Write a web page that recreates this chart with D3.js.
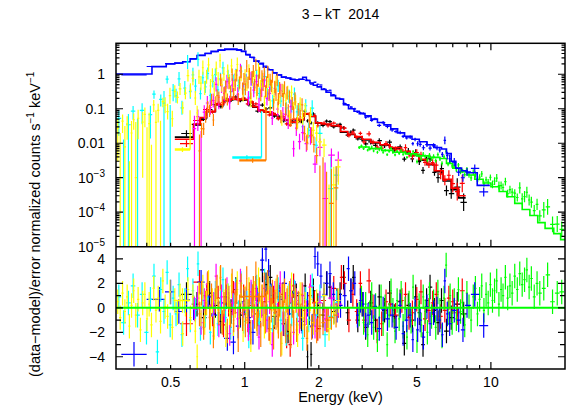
<!DOCTYPE html>
<html><head><meta charset="utf-8">
<script src="https://cdn.jsdelivr.net/npm/d3@7"></script>
<style>
body{margin:0;background:#fff}
text{font-family:"Liberation Sans",Arial,Helvetica,sans-serif;fill:#000}
</style>
</head><body>
<svg id="c" width="568" height="408"></svg>
<script>
// ---------------- DATA ----------------
const titleText = "3 \u2013 kT  2014";
const xLabelText = "Energy (keV)";
const xTickLabels = [0.5, 1, 2, 5, 10];
const yTopTickLabels = [1, 0.1, 0.01, 1e-3, 1e-4, 1e-5];
const yBotTickLabels = [-4, -2, 0, 2, 4];

// blue: model steps (edges / values), relative sigma, points [E, residual]
const blueME = [0.30,0.42,0.48,0.52,0.56,0.60,0.64,0.69,0.73,0.78,0.83,0.88,0.93,0.97,1.01,1.05,1.09,1.14,1.19,1.24,1.30,1.35,1.41,1.47,1.53,1.60,1.66,1.72,1.78,1.84,1.90,1.97,2.05,2.14,2.24,2.34,2.43,2.52,2.64,2.78,2.92,3.08,3.26,3.46,3.68,3.92,4.18,4.46,4.78,5.12,5.50,5.92,6.30,6.60,6.90,7.20,7.60,8.00,8.80,9.90];
const blueMV = [1.02,1.66,2.0,2.1,2.3,2.8,3.5,4.0,4.6,5.0,5.4,5.4,5.1,4.6,3.7,3.1,2.4,2.0,1.6,1.35,1.1,0.95,0.82,0.78,0.72,0.68,0.72,0.82,0.66,0.56,0.48,0.43,0.36,0.30,0.24,0.20,0.19,0.13,0.10,0.085,0.072,0.062,0.05,0.04,0.034,0.026,0.02,0.016,0.013,0.011,0.009,0.0075,0.0068,0.005,0.003,0.0019,0.0016,0.0014,0.0006];
const blueSE = [0.3,1.8,2.5,3.5,5.0,6.5,8.8,10];
const blueSV = [0.015,0.05,0.08,0.12,0.18,0.3,0.35];
const bluePts = [[0.355,-3.8],[0.45,0.7],[0.50,1.3],[0.54,-0.3],[0.58,0.65],[0.62,0.0],[0.665,2.1],[0.71,0.9],[0.75,-0.6],[0.80,0.4],[0.85,-2.5],[0.90,-2.8],[0.94,-1.5],[0.99,0.5],[1.04,-0.8],[1.08,-2.0],[1.13,0.6],[1.18,3.9],[1.22,4.8],[1.25,3.0],[1.28,1.0],[1.33,-0.4],[1.39,0.7],[1.45,2.0],[1.52,-0.5],[1.60,1.2],[1.71,-1.1],[1.80,0.3],[1.88,-1.5],[1.93,4.2],[1.98,3.6],[2.04,2.6],[2.10,1.1],[2.16,2.0],[2.22,2.8],[2.29,1.1],[2.37,-0.2],[2.45,0.2],[2.55,1.0],[2.64,3.2],[2.70,1.4],[2.80,2.0],[2.87,-0.6],[2.95,0.6],[3.03,0.3],[3.10,-1.4],[3.17,-0.6],[3.28,-1.2],[3.38,0.1],[3.52,-1.7],[3.65,-0.1],[3.80,-0.9],[3.97,-0.6],[4.12,-1.6],[4.28,0.2],[4.40,-2.1],[4.55,-1.0],[4.70,-0.6],[4.82,-2.6],[4.92,-0.1],[5.04,-1.8],[5.16,-1.0],[5.32,-2.4],[5.50,0.1],[5.66,-1.3],[5.85,-0.4],[6.04,-0.1],[6.20,-1.0],[6.35,-2.2],[6.50,2.2],[6.65,-0.5],[6.80,-1.3],[7.10,-0.2],[7.40,-1.0],[7.70,-1.8],[8.00,0.2],[8.60,1.1],[9.35,-1.45]];

// black & red (shared energy edges)
const mosME = [0.52,0.62,0.66,0.70,0.76,0.82,0.88,0.97,1.03,1.08,1.13,1.20,1.28,1.36,1.46,1.54,1.64,1.74,1.84,1.94,2.05,2.25,2.45,2.62,2.80,3.00,3.25,3.55,3.90,4.30,4.70,5.10,5.50,5.90,6.40,6.90,7.40,7.90];
const blackMV = [0.015,0.034,0.054,0.082,0.13,0.17,0.185,0.18,0.15,0.11,0.09,0.08,0.066,0.052,0.046,0.04,0.047,0.07,0.06,0.038,0.035,0.031,0.021,0.018,0.015,0.0125,0.0102,0.0088,0.0072,0.0056,0.0044,0.0032,0.0024,0.0015,0.0008,0.00045,0.00026];
const redMV = [0.013,0.036,0.056,0.085,0.13,0.175,0.19,0.185,0.155,0.115,0.092,0.081,0.067,0.053,0.047,0.041,0.048,0.072,0.061,0.039,0.036,0.032,0.022,0.0185,0.0155,0.013,0.0106,0.009,0.0075,0.0058,0.0046,0.0034,0.0025,0.0016,0.0009,0.0005,0.0003];
const mosSE = [0.5,0.62,1.5,3.0,4.5,6.0,7.0,8.0];
const mosSV = [0.25,0.12,0.12,0.18,0.25,0.4,0.8];
const blackPts = [[0.58,1.1],[0.64,0.3],[0.68,-0.8],[0.72,1.2],[0.76,0.2],[0.80,-1.1],[0.84,0.9],[0.88,-0.3],[0.92,1.5],[0.96,-0.6],[1.00,0.4],[1.04,-1.2],[1.08,0.8],[1.13,-0.5],[1.18,3.1],[1.22,1.9],[1.27,2.5],[1.32,-0.7],[1.38,0.9],[1.44,-1.3],[1.50,-1.9],[1.56,0.4],[1.62,1.0],[1.70,-0.9],[1.76,1.8],[1.80,-4.0],[1.83,-0.4],[1.86,-3.8],[1.90,1.4],[1.98,0.2],[2.08,-0.6],[2.15,2.0],[2.22,1.7],[2.30,-0.3],[2.37,0.6],[2.44,1.1],[2.52,2.5],[2.62,-0.4],[2.70,1.4],[2.76,2.5],[2.88,-1.0],[3.00,0.3],[3.10,-1.6],[3.25,0.4],[3.40,-1.0],[3.52,0.9],[3.70,-0.2],[3.88,1.2],[4.05,-0.7],[4.28,0.5],[4.45,-2.9],[4.62,0.2],[4.80,-1.0],[4.95,0.9],[5.12,-0.4],[5.30,-3.0],[5.48,0.6],[5.66,1.7],[5.90,-0.2],[6.10,-1.2],[6.30,0.6],[6.60,-1.9],[6.90,-0.8],[7.30,0.3],[7.75,-0.5]];
const redPts = [[0.58,-1.3],[0.655,2.1],[0.70,1.0],[0.74,-0.5],[0.78,0.8],[0.82,-1.4],[0.86,0.3],[0.90,1.2],[0.95,-0.4],[0.99,0.9],[1.03,-1.0],[1.07,0.2],[1.11,1.6],[1.16,-0.6],[1.21,0.5],[1.26,-1.7],[1.31,0.8],[1.37,-0.3],[1.43,1.1],[1.48,-2.3],[1.53,-3.0],[1.58,1.8],[1.66,0.3],[1.75,-0.2],[1.84,1.0],[1.92,0.4],[1.98,-1.7],[2.10,0.6],[2.18,-1.0],[2.30,1.6],[2.40,0.2],[2.47,2.5],[2.54,2.0],[2.65,-1.0],[2.75,1.1],[2.85,-0.3],[2.95,2.0],[3.05,-1.0],[3.20,2.2],[3.32,0.1],[3.45,-1.9],[3.60,-1.3],[3.75,0.5],[3.90,0.3],[4.10,-0.6],[4.35,0.6],[4.50,1.1],[4.65,-0.8],[4.80,-0.4],[5.00,0.7],[5.20,1.3],[5.40,-0.9],[5.60,-0.2],[5.80,0.4],[6.00,1.1],[6.25,-0.7],[6.50,-0.2],[6.75,0.8],[7.00,0.5],[7.30,-0.4],[7.65,1.4]];

// green
const greenME = [2.90,3.20,3.60,4.00,4.50,5.00,5.60,6.20,6.60,7.00,7.50,8.00,8.60,9.30,10.0,10.8,11.6,12.5,13.4,14.4,15.5,16.6,18.0,19.2,20.0];
const greenMV = [0.0078,0.0070,0.0062,0.0055,0.0049,0.0043,0.0039,0.0036,0.0026,0.0019,0.0015,0.0012,0.0009,0.0007,0.00055,0.0004,0.00028,0.00018,0.00012,0.00008,0.00005,0.000034,0.000024,0.000016];
const greenSE = [2.9,5.0,8.0,10.0,13.0,16.0,20.0];
const greenSV = [0.1,0.15,0.22,0.3,0.45,0.7];
const greenPts = [[2.92,-0.5],[2.98,0.8],[3.04,-1.2],[3.10,0.3],[3.16,-2.2],[3.22,-0.4],[3.28,1.1],[3.34,-1.6],[3.40,0.2],[3.46,-2.6],[3.52,-0.8],[3.58,0.9],[3.65,-1.3],[3.72,0.1],[3.79,-3.0],[3.86,-0.6],[3.93,1.4],[4.00,-0.2],[4.08,-1.9],[4.16,0.6],[4.24,-0.9],[4.32,1.2],[4.40,-1.5],[4.48,-0.1],[4.56,-2.4],[4.65,0.4],[4.74,-1.1],[4.83,1.7],[4.92,-0.5],[5.01,-2.7],[5.11,0.2],[5.21,-1.4],[5.31,0.9],[5.41,-0.3],[5.52,-2.0],[5.63,1.1],[5.74,-0.7],[5.85,0.5],[5.97,-1.6],[6.09,1.3],[6.21,-0.2],[6.33,-2.3],[6.45,0.8],[6.58,3.5],[6.70,-0.4],[6.83,1.0],[6.96,-1.2],[7.10,0.6],[7.24,-0.9],[7.38,1.5],[7.53,-0.3],[7.68,0.4],[7.83,-1.4],[7.99,1.2],[8.15,0.1],[8.31,-1.0],[8.48,0.9],[8.65,1.6],[8.82,-0.5],[9.00,0.7],[9.18,1.8],[9.37,-0.2],[9.56,1.1],[9.75,0.4],[9.95,1.9],[10.15,0.6],[10.35,1.4],[10.56,2.2],[10.78,0.3],[11.0,1.5],[11.2,1.0],[11.45,2.5],[11.7,0.8],[11.95,1.8],[12.2,1.2],[12.5,2.6],[12.8,1.5],[13.1,2.8],[13.4,1.9],[13.7,2.3],[14.0,3.1],[14.3,1.7],[14.6,2.4],[15.0,0.9],[15.4,2.0],[15.8,1.2],[16.4,1.6],[17.0,2.7],[17.8,0.5],[18.6,1.2],[19.4,1.3]];

// cyan
const cyanME = [0.30,0.36,0.42,0.47,0.52,0.58,0.65,0.75,0.90,1.05,1.20,1.35,1.50,1.65,1.80,1.95,2.10,2.30,2.45];
const cyanMV = [0.02,0.03,0.08,0.2,0.3,0.5,0.55,0.6,0.55,0.45,0.35,0.25,0.15,0.09,0.04,0.012,0.003,0.0008];
const cyanSE = [0.3,0.42,0.52,0.65,1.5,1.8,2.1,2.45];
const cyanSV = [1.8,0.9,0.6,0.5,0.55,0.7,1.2];
const cyanPts = [[0.308,0.9],[0.322,-1.2],[0.337,0.4],[0.352,1.8],[0.367,-0.6],[0.383,1.1],[0.399,-2.0],[0.414,0.7],[0.428,2.6],[0.442,-3.6],[0.456,1.5],[0.470,-0.3],[0.484,2.9],[0.498,-1.4],[0.512,0.8],[0.526,-0.5],[0.541,1.9],[0.556,-2.2],[0.571,0.6],[0.586,3.2],[0.601,-1.0],[0.616,1.4],[0.631,-0.2],[0.646,3.6],[0.661,-1.7],[0.676,0.9],[0.692,-0.6],[0.708,1.6],[0.725,-2.0],[0.742,0.3],[0.760,1.2],[0.778,-1.3],[0.797,0.5],[0.816,2.3],[0.836,-0.8],[0.856,1.0],[0.877,-1.6],[0.898,0.2],[0.920,1.4],[0.943,-0.4],[0.966,2.0],[0.990,-1.1],[1.014,0.6],[1.039,-2.3],[1.065,1.1],[1.091,-0.2],[1.118,1.7],[1.146,-1.2],[1.175,0.4],[1.205,2.2],[1.236,-0.7],[1.268,0.9],[1.300,-1.8],[1.333,0.3],[1.367,1.5],[1.402,-1.0],[1.438,0.6],[1.475,-2.1],[1.513,1.0],[1.552,-0.5],[1.592,1.3],[1.633,-1.4],[1.675,0.2],[1.72,-2.5],[1.77,0.7],[1.82,-1.0],[1.88,1.8],[1.95,-0.6],[2.02,0.9],[2.12,-2.2],[2.24,-0.7],[2.36,0.4]];

// magenta
const magentaME = [0.62,0.67,0.72,0.78,0.86,0.95,1.05,1.15,1.25,1.35,1.45,1.55,1.70,1.85,2.10,2.50];
const magentaMV = [0.03,0.06,0.15,0.3,0.4,0.45,0.4,0.32,0.22,0.13,0.06,0.02,0.012,0.006,0.0025];
const magentaSE = [0.62,0.67,0.78,1.3,1.55,1.85,2.1,2.5];
const magentaSV = [1.2,0.6,0.6,0.6,0.7,0.8,1.0];
const magentaPts = [[0.625,-0.1],[0.645,0.8],[0.665,-1.2],[0.685,0.6],[0.705,1.9],[0.725,-0.7],[0.745,0.3],[0.765,2.6],[0.785,-1.4],[0.805,0.9],[0.826,-0.2],[0.847,1.5],[0.869,-2.1],[0.891,0.4],[0.914,1.1],[0.937,-0.9],[0.961,2.2],[0.985,-0.5],[1.010,0.7],[1.035,-1.7],[1.061,1.3],[1.088,-0.3],[1.115,0.9],[1.143,-2.4],[1.172,0.2],[1.201,1.6],[1.231,-1.0],[1.262,0.5],[1.294,-3.0],[1.327,1.2],[1.360,-0.6],[1.394,2.0],[1.429,-1.3],[1.465,0.3],[1.502,-0.8],[1.54,1.4],[1.58,-2.0],[1.62,0.6],[1.67,-1.1],[1.72,1.0],[1.78,-0.4],[1.85,1.7],[1.93,-1.5],[2.02,0.4],[2.12,-0.9],[2.25,0.8],[2.40,0.3]];

// yellow
const yellowME = [0.30,0.36,0.42,0.47,0.52,0.58,0.66,0.74,0.84,0.96,1.08,1.20,1.35,1.50,1.65,1.80,1.95,2.10,2.30,2.45];
const yellowMV = [0.015,0.025,0.05,0.12,0.25,0.5,0.7,0.8,0.75,0.6,0.45,0.3,0.2,0.12,0.08,0.045,0.015,0.004,0.0012];
const yellowSE = [0.3,0.42,0.47,0.52,0.6,1.2,1.5,1.8,2.1,2.5];
const yellowSV = [1.6,1.0,0.7,0.5,0.6,0.6,0.6,0.7,1.2];
const yellowPts = [[0.305,0.5],[0.312,-0.8],[0.319,1.2],[0.326,-0.3],[0.333,0.9],[0.340,-1.5],[0.347,0.2],[0.354,1.4],[0.361,-0.6],[0.369,0.7],[0.377,-1.8],[0.385,0.4],[0.393,1.1],[0.401,-0.9],[0.409,0.3],[0.418,-1.4],[0.427,1.6],[0.436,-0.2],[0.445,0.8],[0.455,-1.1],[0.465,2.2],[0.475,0.1],[0.486,-0.7],[0.497,1.3],[0.508,-1.6],[0.520,0.6],[0.533,-0.4],[0.546,1.0],[0.560,-2.1],[0.574,0.3],[0.588,1.5],[0.602,-0.8],[0.616,0.9],[0.630,-1.9],[0.641,-4.0],[0.652,1.1],[0.664,-0.5],[0.676,1.7],[0.688,-1.2],[0.700,0.4],[0.713,2.1],[0.726,-0.9],[0.739,0.6],[0.752,-1.6],[0.766,1.3],[0.780,-0.2],[0.794,2.4],[0.808,-1.0],[0.823,0.5],[0.838,-2.2],[0.853,1.0],[0.868,-0.4],[0.884,1.8],[0.900,-1.3],[0.916,0.2],[0.933,2.0],[0.950,-0.7],[0.967,1.1],[0.985,-1.8],[1.003,0.8],[1.021,-0.3],[1.040,1.5],[1.059,-2.6],[1.078,0.4],[1.098,1.2],[1.118,-0.9],[1.138,2.3],[1.159,-0.1],[1.180,0.9],[1.202,-1.5],[1.224,0.3],[1.246,1.6],[1.269,-2.0],[1.292,0.7],[1.316,-0.6],[1.340,1.4],[1.365,-1.1],[1.390,0.2],[1.415,-2.9],[1.441,1.0],[1.468,-0.3],[1.495,0.8],[1.52,-1.6],[1.55,1.9],[1.58,-0.4],[1.61,0.6],[1.64,-2.2],[1.68,1.1],[1.72,-0.8],[1.76,0.3],[1.80,-1.9],[1.85,0.7],[1.90,-1.2],[1.96,0.5],[2.02,-0.6],[2.10,1.0],[2.20,-1.7],[2.30,-0.4],[2.40,0.6]];

// orange
const orangeME = [0.64,0.68,0.72,0.78,0.85,0.92,1.00,1.10,1.20,1.30,1.40,1.50,1.62,1.75,1.88,2.00,2.12,2.35];
const orangeMV = [0.012,0.05,0.12,0.25,0.4,0.55,0.65,0.6,0.5,0.35,0.22,0.13,0.08,0.04,0.012,0.005,0.0015];
const orangeSE = [0.64,0.68,0.78,1.4,1.75,2.0,2.35];
const orangeSV = [1.0,0.5,0.5,0.55,0.7,1.1];
const orangePts = [[0.655,-0.5],[0.668,1.2],[0.681,-1.6],[0.694,0.4],[0.707,2.0],[0.720,-0.8],[0.733,1.0],[0.746,-2.3],[0.759,0.6],[0.772,1.7],[0.785,-0.4],[0.798,2.5],[0.811,-1.2],[0.824,0.3],[0.837,1.4],[0.850,-1.9],[0.863,0.8],[0.876,-0.6],[0.889,2.2],[0.902,-1.0],[0.915,0.5],[0.928,1.3],[0.941,-2.6],[0.954,0.1],[0.967,1.8],[0.980,-0.9],[0.993,0.7],[1.006,-1.4],[1.019,2.4],[1.032,-0.3],[1.045,1.1],[1.058,-2.0],[1.071,0.6],[1.084,1.6],[1.097,-0.7],[1.110,2.8],[1.123,-1.3],[1.136,0.2],[1.149,1.5],[1.162,-2.2],[1.175,0.9],[1.188,-0.5],[1.201,1.9],[1.214,-1.1],[1.227,0.4],[1.240,2.1],[1.254,-1.7],[1.268,0.8],[1.282,-0.2],[1.296,1.3],[1.310,-2.4],[1.325,0.5],[1.340,-0.8],[1.355,1.7],[1.370,-1.5],[1.386,0.3],[1.402,-3.0],[1.418,1.0],[1.434,-0.4],[1.451,1.4],[1.468,-1.9],[1.485,0.6],[1.503,-0.9],[1.521,1.2],[1.540,-2.3],[1.560,0.2],[1.580,-1.2],[1.600,0.9],[1.625,-1.8],[1.650,0.4],[1.68,-0.7],[1.71,1.1],[1.75,-1.4],[1.79,-2.5],[1.83,0.3],[1.87,-1.6],[1.91,-0.5],[1.96,-1.9],[2.02,-1.5],[2.08,-1.2],[2.15,-1.0],[2.25,-0.8],[2.35,-0.6]];

// isolated wide bins (series, low edge, high edge, value, riser top, residual)
const wideSeries = ["yellow","cyan","orange"];
const wideLo = [0.52, 0.89, 0.95];
const wideHi = [0.60, 1.17, 1.22];
const wideVal = [0.0068, 0.004, 0.0033];
const wideRise = [0.09, 0.085, 0.11];
const wideRes = [0.6, 0.4, 0.93];

// ---------------- DRAWING ----------------
const colors = {black:"#000000", red:"#ff0000", green:"#00ff00", blue:"#0000ff",
                cyan:"#00ffff", magenta:"#ff00ff", yellow:"#ffff00", orange:"#ff8000"};
const series = [
  {name:"black",  mE:mosME,     mV:blackMV,   sE:mosSE,     sV:mosSV,     pts:blackPts,   line:true},
  {name:"red",    mE:mosME,     mV:redMV,     sE:mosSE,     sV:mosSV,     pts:redPts,     line:true},
  {name:"green",  mE:greenME,   mV:greenMV,   sE:greenSE,   sV:greenSV,   pts:greenPts,   line:true},
  {name:"blue",   mE:blueME,    mV:blueMV,    sE:blueSE,    sV:blueSV,    pts:bluePts,    line:true},
  {name:"cyan",   mE:cyanME,    mV:cyanMV,    sE:cyanSE,    sV:cyanSV,    pts:cyanPts,    line:false},
  {name:"magenta",mE:magentaME, mV:magentaMV, sE:magentaSE, sV:magentaSV, pts:magentaPts, line:false},
  {name:"yellow", mE:yellowME,  mV:yellowMV,  sE:yellowSE,  sV:yellowSV,  pts:yellowPts,  line:false},
  {name:"orange", mE:orangeME,  mV:orangeMV,  sE:orangeSE,  sV:orangeSV,  pts:orangePts,  line:false}
];

const Lx=116, Rx=565, Ty=43.3, My=246.7, By=369;
const YMIN=1e-5, YMAX=7.9;
const x = d3.scaleLog().domain([0.3,20]).range([Lx,Rx]);
const yT = d3.scaleLog().domain([YMIN,YMAX]).range([My,Ty]);
const yB = d3.scaleLinear().domain([-5,5]).range([By,My]);

const svg = d3.select("#c");
const defs = svg.append("defs");
defs.append("clipPath").attr("id","clipT").append("rect").attr("x",Lx).attr("y",Ty).attr("width",Rx-Lx).attr("height",My-Ty);
defs.append("clipPath").attr("id","clipB").append("rect").attr("x",Lx).attr("y",My).attr("width",Rx-Lx).attr("height",By-My);

function stepVal(edges, vals, e){
  let i = d3.bisectRight(edges, e) - 1;
  i = Math.max(0, Math.min(vals.length-1, i));
  return vals[i];
}
function binEdges(E){
  const cap = Math.pow(10, 0.085);
  return E.map((e,i)=>{
    let lo = i>0 ? Math.sqrt(E[i-1]*e) : null;
    let hi = i<E.length-1 ? Math.sqrt(e*E[i+1]) : null;
    if (lo===null) lo = e*e/hi;
    if (hi===null) hi = e*e/lo;
    return [Math.max(lo, e/cap), Math.min(hi, e*cap)];
  });
}

const gT = svg.append("g").attr("clip-path","url(#clipT)");
const gB = svg.append("g").attr("clip-path","url(#clipB)");

series.forEach(s=>{
  const col = colors[s.name];
  const E = s.pts.map(p=>p[0]);
  const be = binEdges(E);
  const pt = d3.path(), pb = d3.path();
  s.pts.forEach((p,i)=>{
    const e=p[0], r=p[1];
    const m = stepVal(s.mE, s.mV, e);
    const sr = stepVal(s.sE, s.sV, e);
    let d, lo, hi;
    if (sr >= 0.9) { const sg = sr*m; d = m + r*sg; lo = d - sg; hi = d + sg; }
    else { const f = 1 + sr; d = m*Math.pow(f, r); lo = d/f; hi = d*f; }
    const xe = x(e);
    if (hi > YMIN){
      pt.moveTo(xe, lo > YMIN ? yT(lo) : My+3);
      pt.lineTo(xe, yT(Math.min(hi, YMAX*2)));
    }
    if (d > YMIN){
      pt.moveTo(x(be[i][0]), yT(d)); pt.lineTo(x(be[i][1]), yT(d));
    }
    pb.moveTo(xe, yB(r-1)); pb.lineTo(xe, yB(r+1));
    pb.moveTo(x(be[i][0]), yB(r)); pb.lineTo(x(be[i][1]), yB(r));
  });
  gT.append("path").attr("d", pt.toString()).attr("fill","none").attr("stroke",col).attr("stroke-width",1.2);
  if (s.line){
    const mp = s.mV.map((v,i)=>[s.mE[i], v]).concat([[s.mE[s.mE.length-1], s.mV[s.mV.length-1]]]);
    gT.append("path").datum(mp)
      .attr("d", d3.line().x(d=>x(d[0])).y(d=>yT(d[1])).curve(d3.curveStepAfter))
      .attr("fill","none").attr("stroke",col).attr("stroke-width",1.6);
  }
  gB.append("path").attr("d", pb.toString()).attr("fill","none").attr("stroke",col).attr("stroke-width",1.2);

  wideSeries.forEach((nm,k)=>{
    if (nm !== s.name) return;
    const lo = wideLo[k], hi = wideHi[k], v = wideVal[k], r = wideRes[k];
    const ec = Math.sqrt(lo*hi);
    const w = d3.path();
    w.moveTo(x(lo), yT(v)); w.lineTo(x(hi), yT(v)); w.lineTo(x(hi), yT(wideRise[k]));
    w.moveTo(x(lo), yT(v*0.93)); w.lineTo(x(hi), yT(v*0.93));
    w.moveTo(x(ec), yT(v*0.82)); w.lineTo(x(ec), yT(v*1.12));
    gT.append("path").attr("d", w.toString()).attr("fill","none").attr("stroke",col).attr("stroke-width",1.3);
    const wb = d3.path();
    wb.moveTo(x(lo), yB(r)); wb.lineTo(x(hi), yB(r));
    wb.moveTo(x(ec), yB(r-1)); wb.lineTo(x(ec), yB(r+1));
    gB.append("path").attr("d", wb.toString()).attr("fill","none").attr("stroke",col).attr("stroke-width",1.3);
  });
});

gB.append("line").attr("x1",Lx).attr("x2",Rx).attr("y1",yB(0)).attr("y2",yB(0))
  .attr("stroke",colors.green).attr("stroke-width",2);

// ---------------- AXES ----------------
const ax = svg.append("g").attr("stroke","#000").attr("fill","none");
ax.append("rect").attr("x",Lx).attr("y",Ty).attr("width",Rx-Lx).attr("height",By-Ty).attr("stroke-width",1.5);
ax.append("line").attr("x1",Lx).attr("x2",Rx).attr("y1",My).attr("y2",My).attr("stroke-width",1.5);

const tp = d3.path();
x.ticks().forEach(t=>{
  const xx = x(t);
  if (xx <= Lx+1 || xx >= Rx-1) return;
  const major = Math.abs(Math.log10(t) - Math.round(Math.log10(t))) < 1e-9;
  const len = major ? 7 : 4;
  tp.moveTo(xx, Ty); tp.lineTo(xx, Ty+len);
  tp.moveTo(xx, My); tp.lineTo(xx, My-len);
  tp.moveTo(xx, By); tp.lineTo(xx, By-len);
});
yT.ticks().forEach(t=>{
  const yy = yT(t);
  if (yy >= My-0.5 || yy <= Ty+0.5) return;
  const major = Math.abs(Math.log10(t) - Math.round(Math.log10(t))) < 1e-9;
  const len = major ? 7 : 3.5;
  tp.moveTo(Lx, yy); tp.lineTo(Lx+len, yy);
  tp.moveTo(Rx, yy); tp.lineTo(Rx-len, yy);
});
d3.range(-4,5).forEach(t=>{
  const yy = yB(t);
  const len = (t % 2 === 0) ? 7 : 5;
  tp.moveTo(Lx, yy); tp.lineTo(Lx+len, yy);
  tp.moveTo(Rx, yy); tp.lineTo(Rx-len, yy);
});
ax.append("path").attr("d", tp.toString()).attr("stroke-width",1.2);

const fs = 14;
xTickLabels.forEach(t=>{
  svg.append("text").attr("x", x(t)).attr("y", 387).attr("text-anchor","middle")
    .attr("font-size", fs).text(String(t));
});
yTopTickLabels.forEach(t=>{
  const txt = svg.append("text").attr("x",105).attr("y", yT(t)+5).attr("text-anchor","end").attr("font-size",fs);
  const p = Math.round(Math.log10(t));
  if (p >= -2) txt.text(String(t));
  else {
    txt.append("tspan").text("10");
    txt.append("tspan").attr("font-size",10).attr("dy",-6).text("\u2212" + (-p));
  }
});
yBotTickLabels.forEach(t=>{
  svg.append("text").attr("x",105).attr("y", yB(t)+5).attr("text-anchor","end").attr("font-size",fs)
    .text(t < 0 ? "\u2212" + (-t) : String(t));
});

svg.append("text").attr("x",(Lx+Rx)/2).attr("y",19).attr("text-anchor","middle")
  .attr("font-size",14).style("white-space","pre").text(titleText);
svg.append("text").attr("x",(Lx+Rx)/2).attr("y",402).attr("text-anchor","middle")
  .attr("font-size",14.5).text(xLabelText);
const yl = svg.append("text").attr("transform","translate(40,377) rotate(-90)")
  .attr("text-anchor","start").attr("font-size",14.5);
yl.append("tspan").text("(data\u2212model)/error normalized counts s");
yl.append("tspan").attr("font-size",10).attr("dy",-6).text("\u22121");
yl.append("tspan").attr("dy",6).text(" keV");
yl.append("tspan").attr("font-size",10).attr("dy",-6).text("\u22121");
</script>
</body></html>
